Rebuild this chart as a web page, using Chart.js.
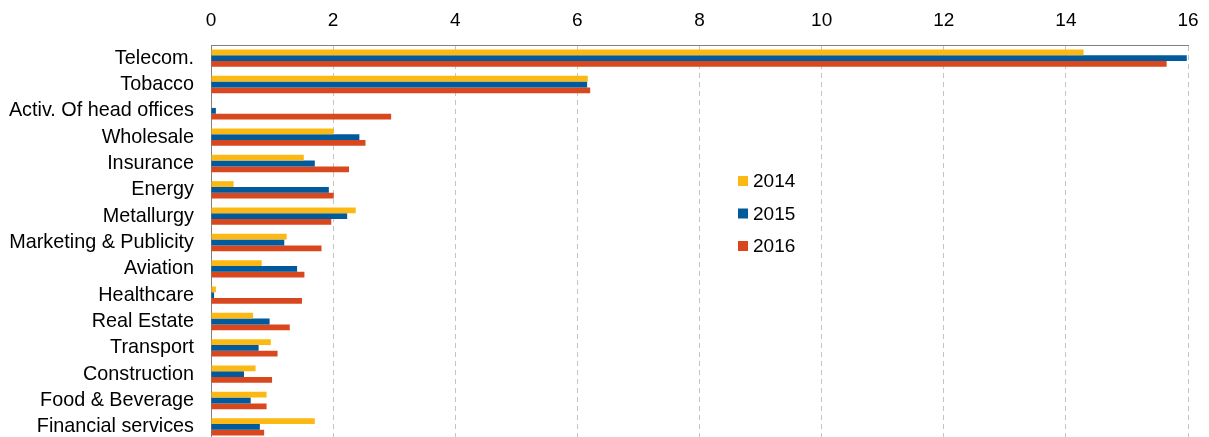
<!DOCTYPE html>
<html>
<head>
<meta charset="utf-8">
<script src="https://cdn.jsdelivr.net/npm/chart.js@4/dist/chart.umd.min.js"></script>
<style>
  html, body { margin: 0; padding: 0; background: #fff; overflow: hidden; }
  #wrap { position: relative; width: 1209px; height: 440px; }
</style>
</head>
<body>
<div id="wrap"><canvas id="sectorChart"></canvas></div>
<script>
// sectors, top to bottom
const sectors = [
  'Telecom.', 'Tobacco', 'Activ. Of head offices', 'Wholesale', 'Insurance',
  'Energy', 'Metallurgy', 'Marketing & Publicity', 'Aviation', 'Healthcare',
  'Real Estate', 'Transport', 'Construction', 'Food & Beverage', 'Financial services'
];
const years = ['2014', '2015', '2016'];
const values2014 = [14.29, 6.17, 0.01, 2.01, 1.52, 0.37, 2.37, 1.24, 0.83, 0.08, 0.69, 0.98, 0.73, 0.91, 1.70];
const values2015 = [15.98, 6.16, 0.08, 2.43, 1.70, 1.93, 2.23, 1.20, 1.41, 0.05, 0.96, 0.78, 0.54, 0.65, 0.80];
const values2016 = [15.65, 6.21, 2.95, 2.53, 2.26, 2.01, 1.97, 1.81, 1.53, 1.49, 1.29, 1.09, 1.00, 0.91, 0.87];
const xTicks = [0, 2, 4, 6, 8, 10, 12, 14, 16];

const colors = ['#FDB913', '#005A9C', '#D9471E'];
const FONT = '"Liberation Sans", Arial, sans-serif';

// legend sits inside the plot, drawn from the dataset list
const insideLegend = {
  id: 'insideLegend',
  afterDraw(chart) {
    const ctx = chart.ctx;
    ctx.save();
    ctx.font = '19px ' + FONT;
    ctx.textBaseline = 'middle';
    chart.data.datasets.forEach((ds, i) => {
      const y = 181 + i * 32.5;
      ctx.fillStyle = ds.backgroundColor;
      ctx.fillRect(738, y - 5, 10, 10);
      ctx.fillStyle = '#000';
      ctx.fillText(ds.label, 753, y + 1);
    });
    ctx.restore();
  }
};

new Chart(document.getElementById('sectorChart'), {
  type: 'bar',
  data: {
    labels: sectors,
    datasets: [values2014, values2015, values2016].map((vals, i) => ({
      label: years[i],
      data: vals,
      backgroundColor: colors[i],
      categoryPercentage: 0.66,
      barPercentage: 1.0
    }))
  },
  options: {
    indexAxis: 'y',
    responsive: true,
    maintainAspectRatio: false,
    animation: false,
    layout: { padding: { left: 0, right: 21, top: 0, bottom: 0 } },
    plugins: {
      legend: { display: false },
      tooltip: { enabled: false }
    },
    scales: {
      x: {
        position: 'top',
        min: 0,
        max: 16,
        afterBuildTicks: s => { s.ticks = xTicks.map(v => ({ value: v })); },
        afterFit: s => { s.height = 45; s.paddingLeft = 0; s.paddingRight = 0; },
        grid: {
          drawTicks: false,
          color: c => (c.index === 0 ? 'rgba(0,0,0,0)' : '#c4c4c4'),
          lineWidth: 1
        },
        border: { display: true, color: '#7f7f7f', width: 1, dash: [5, 4] },
        ticks: { color: '#000', padding: 13, font: { family: FONT, size: 19 } }
      },
      y: {
        afterFit: s => { s.width = 211; s.paddingTop = 0; s.paddingBottom = 0; },
        grid: { display: false, drawTicks: false },
        border: { display: true, color: '#7f7f7f', width: 1 },
        ticks: { color: '#000', padding: 17, autoSkip: false, font: { family: FONT, size: 19.8 } }
      }
    }
  },
  plugins: [insideLegend]
});
</script>
</body>
</html>
